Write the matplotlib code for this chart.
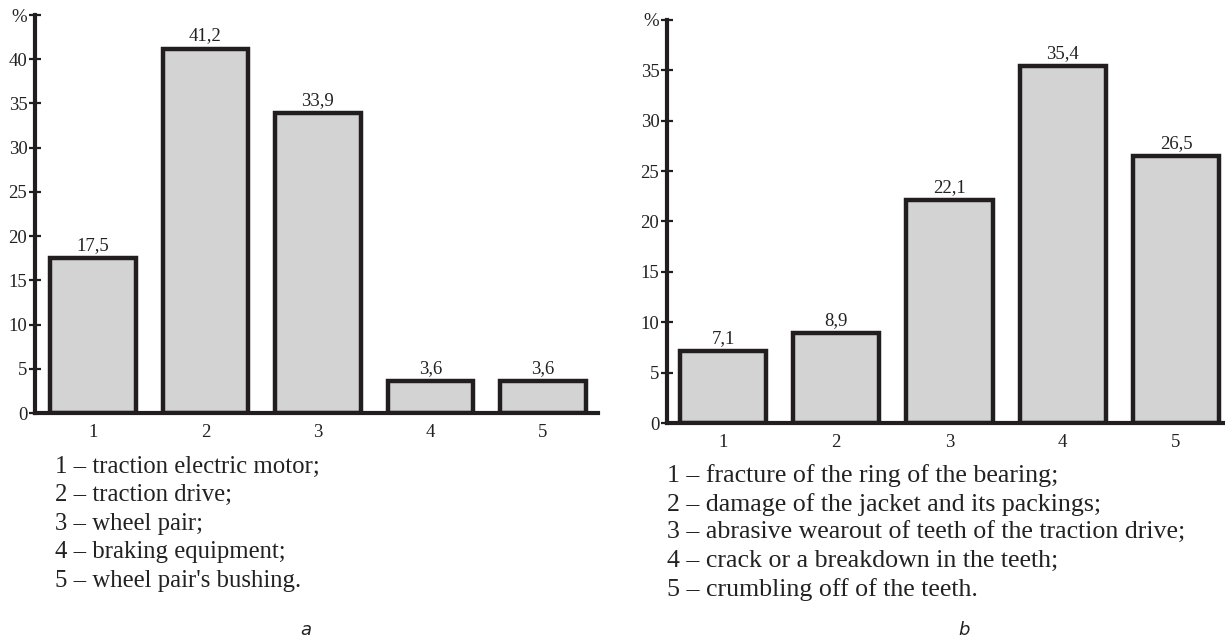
import matplotlib.pyplot as plt

# === DATA ===
positions = [1, 2, 3, 4, 5]
values_a = [17.5, 41.2, 33.9, 3.6, 3.6]
values_b = [7.1, 8.9, 22.1, 35.4, 26.5]
yticks_a = [0, 5, 10, 15, 20, 25, 30, 35, 40, 45]
yticks_b = [0, 5, 10, 15, 20, 25, 30, 35, 40]
legend_a = ["1 – traction electric motor;",
            "2 – traction drive;",
            "3 – wheel pair;",
            "4 – braking equipment;",
            "5 – wheel pair's bushing."]
legend_b = ["1 – fracture of the ring of the bearing;",
            "2 – damage of the jacket and its packings;",
            "3 – abrasive wearout of teeth of the traction drive;",
            "4 – crack or a breakdown in the teeth;",
            "5 – crumbling off of the teeth."]

plt.rcParams['font.family'] = ['Liberation Serif', 'DejaVu Serif']

W, H = 1225, 642
EDGE = '#221e1f'
FILL = '#d3d3d3'
TXT = '#222222'


def draw_panel(ax, values, yticks, xlim):
    ax.bar(positions, values, width=0.76, color=FILL, edgecolor=EDGE,
           linewidth=3.2, zorder=3)
    for x, v in zip(positions, values):
        ax.annotate(f"{v:.1f}".replace('.', ','), (x, v), xytext=(0, 3),
                    textcoords='offset points', ha='center', va='bottom',
                    fontsize=13.5, color=TXT)
    ax.set_xlim(*xlim)
    ax.set_ylim(0, yticks[-1])
    ax.set_xticks(positions)
    ax.set_yticks(yticks)
    # top tick carries the "%" unit sign
    ax.set_yticklabels([str(t) for t in yticks[:-1]] + ['%'])
    for s in ['top', 'right']:
        ax.spines[s].set_visible(False)
    for s in ['left', 'bottom']:
        ax.spines[s].set_linewidth(3)
        ax.spines[s].set_color(EDGE)
        ax.spines[s].set_zorder(4)
    ax.tick_params(axis='y', direction='inout', length=9, width=1.6,
                   color=EDGE, pad=1, labelsize=13.5, labelcolor=TXT)
    ax.tick_params(axis='x', length=0, pad=8, labelsize=13.5,
                   labelcolor=TXT)


fig = plt.figure(figsize=(W / 100, H / 100), dpi=100)

ax_a = fig.add_axes([35 / W, 1 - 413 / H, (598 - 35) / W, (413 - 15) / H])
draw_panel(ax_a, values_a, yticks_a, (0.485, 5.49))

ax_b = fig.add_axes([667 / W, 1 - 423 / H, (1223 - 667) / W, (423 - 20) / H])
draw_panel(ax_b, values_b, yticks_b, (0.505, 5.415))

for i, line in enumerate(legend_a):
    fig.text(55 / W, 1 - (467 + i * 28.4) / H, line, fontsize=17.8,
             va='center', ha='left', color=TXT)
for i, line in enumerate(legend_b):
    fig.text(667 / W, 1 - (476 + i * 28.4) / H, line, fontsize=18.6,
             va='center', ha='left', color=TXT)

fig.text(306 / W, 1 - 630 / H, 'a', fontsize=13, style='italic',
         family='DejaVu Sans', ha='center', va='center', color=TXT)
fig.text(964 / W, 1 - 630 / H, 'b', fontsize=13, style='italic',
         family='DejaVu Sans', ha='center', va='center', color=TXT)

fig.savefig('out.png', dpi=100)
